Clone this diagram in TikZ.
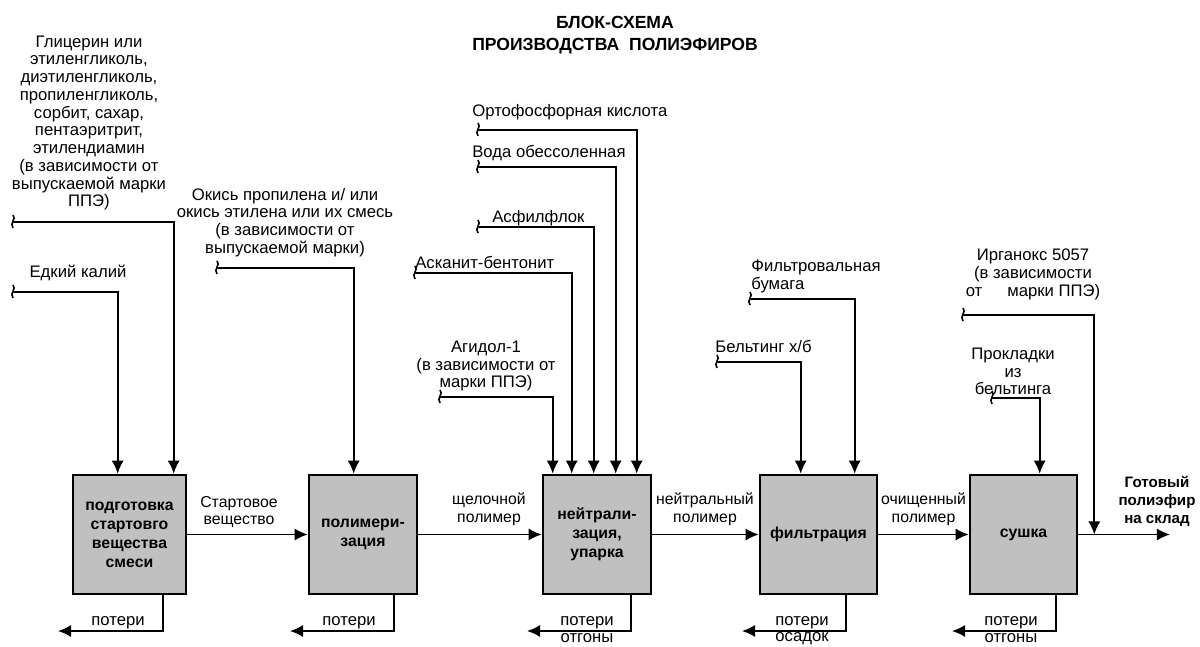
\documentclass[tikz,border=0pt]{standalone}
\usepackage{fontspec}
\setmainfont{Liberation Sans}
\usetikzlibrary{arrows.meta,calc}
\definecolor{boxgray}{RGB}{192,192,192}
\tikzset{
  box/.style={draw, line width=1.5pt, fill=boxgray, minimum height=2.38cm, inner sep=0pt, align=center, font=\fontsize{9}{10.8}\selectfont\bfseries},
  ln/.style={line width=1pt},
  arr/.style={line width=1pt, -{Latex[length=7.5pt,width=7pt]}},
  lbl/.style={inner sep=0pt, align=center, font=\fontsize{9.5}{10.1}\selectfont},
  flbl/.style={inner sep=0pt, align=center, font=\fontsize{9}{10.1}\selectfont},
  lossl/.style={inner sep=0pt, anchor=base, font=\fontsize{9.5}{10.1}\selectfont},
  lbll/.style={inner sep=0pt, align=left, anchor=west, font=\fontsize{9.5}{10.1}\selectfont},
  brk/.pic={\draw[line width=0.9pt] (0,-7) .. controls (4,-3) and (-4,1) .. (0,6);}
}
\begin{document}
\begin{tikzpicture}[x=0.02cm,y=-0.02cm]
\useasboundingbox (0,0) rectangle (1200,646);

% title
\node[inner sep=0pt, align=center, font=\fontsize{10}{12.5}\selectfont\bfseries] (title) at (615,35) {БЛОК-СХЕМА\\ПРОИЗВОДСТВА\ \ ПОЛИЭФИРОВ};

% process boxes
\node[box, minimum width=2.26cm] (b1) at (129.5,534.5) {подготовка\\стартовго\\вещества\\смеси};
\node[box, minimum width=2.16cm] (b2) at (363,534.5) {полимери-\\зация};
\node[box, minimum width=2.16cm] (b3) at (597,534.5) {нейтрали-\\зация,\\упарка};
\node[box, minimum width=2.34cm] (b4) at (818.5,534.5) {фильтрация};
\node[box, minimum width=2.14cm] (b5) at (1023.5,534.5) {сушка};

% main flow
\draw[arr] (b1) -- (b2);
\draw[arr] (b2) -- (b3);
\draw[arr] (b3) -- (b4);
\draw[arr] (b4) -- (b5);
\coordinate (out) at (1170,534.5);
\draw[arr] (b5.east) -- (out);

\node[flbl] (f1) at (239,512) {Стартовое\\вещество};
\node[flbl] (f2) at (489,509.5) {щелочной\\полимер};
\node[flbl] (f3) at (705,509.5) {нейтральный\\полимер};
\node[flbl] (f4) at (923.5,509.5) {очищенный\\полимер};
\node[inner sep=0pt, align=center, font=\fontsize{8.6}{10.2}\selectfont\bfseries] (fout) at (1157,501) {Готовый\\полиэфир\\на склад};

% inputs to box 1
\coordinate (i1) at (13,222);
\draw[arr] (i1) -| ($(b1.north west)+(102,0)$);
\pic at (i1) {brk};
\node[lbl] (t1) at (89,123) {Глицерин или\\этиленгликоль,\\диэтиленгликоль,\\пропиленгликоль,\\сорбит, сахар,\\пентаэритрит,\\этилендиамин\\(в зависимости от\\выпускаемой марки\\ППЭ)};
\coordinate (i2) at (13,292);
\draw[arr] (i2) -| ($(b1.north west)+(46,0)$);
\pic at (i2) {brk};
\node[lbl] (t2) at (78,273) {Едкий калий};

% input to box 2
\coordinate (i3) at (217,268);
\draw[arr] (i3) -| ($(b2.north west)+(46,0)$);
\pic at (i3) {brk};
\node[lbl] (t3) at (285,222.5) {Окись пропилена и/ или\\окись этилена или их смесь\\(в зависимости от\\выпускаемой марки)};

% inputs to box 3
\coordinate (i4) at (478,130);
\draw[arr] (i4) -| ($(b3.north west)+(95,0)$);
\pic at (i4) {brk};
\node[lbll] (t4) at (472,112) {Ортофосфорная кислота};
\coordinate (i5) at (478,167);
\draw[arr] (i5) -| ($(b3.north west)+(74,0)$);
\pic at (i5) {brk};
\node[lbll] (t5) at (472,153) {Вода обессоленная};
\coordinate (i6) at (478,227);
\draw[arr] (i6) -| ($(b3.north west)+(52,0)$);
\pic at (i6) {brk};
\node[lbll] (t6) at (492,218) {Асфилфлок};
\coordinate (i7) at (415,273);
\draw[arr] (i7) -| ($(b3.north west)+(30,0)$);
\pic at (i7) {brk};
\node[lbll] (t7) at (415,262) {Асканит-бентонит};
\coordinate (i8) at (440,397);
\draw[arr] (i8) -| ($(b3.north west)+(11,0)$);
\pic at (i8) {brk};
\node[lbl] (t8) at (486,366) {Агидол-1\\(в зависимости от\\марки ППЭ)};

% inputs to box 4
\coordinate (i9) at (750,299);
\draw[arr] (i9) -| ($(b4.north west)+(96,0)$);
\pic at (i9) {brk};
\node[lbll] (t9) at (751,276.5) {Фильтровальная\\бумага};
\coordinate (i10) at (717,362);
\draw[arr] (i10) -| ($(b4.north west)+(42,0)$);
\pic at (i10) {brk};
\node[lbll] (t10) at (715,346) {Бельтинг х/б};

% inputs to box 5 and output
\coordinate (i11) at (992,398);
\draw[arr] (i11) -| ($(b5.north west)+(71,0)$);
\pic at (i11) {brk};
\node[lbl] (t11) at (1013,371.5) {Прокладки\\из\\бельтинга};
\coordinate (i12) at (963,315);
\draw[arr] (i12) -| ($(b5.east)+(16,0)$);
\pic at (i12) {brk};
\node[lbl] (t12) at (1033,274.5) {Ирганокс 5057\\(в зависимости\\от\hspace{1.5em}марки ППЭ)};

% losses
\coordinate (o1) at (58,631);
\draw[arr] ($(b1.south west)+(91,0)$) |- (o1);
\node[lossl] (l1) at (118,625) {потери};
\coordinate (o2) at (290,631);
\draw[arr] ($(b2.south west)+(86,0)$) |- (o2);
\node[lossl] (l2) at (349,625) {потери};
\coordinate (o3) at (527,631);
\draw[arr] ($(b3.south west)+(89,0)$) |- (o3);
\node[lossl] (l3) at (587,625) {потери};
\node[lossl] (l3b) at (587,642) {отгоны};
\coordinate (o4) at (742,631);
\draw[arr] ($(b4.south west)+(87,0)$) |- (o4);
\node[lossl] (l4) at (802,625) {потери};
\node[lossl] (l4b) at (802,641.5) {осадок};
\coordinate (o5) at (952,631);
\draw[arr] ($(b5.south west)+(87,0)$) |- (o5);
\node[lossl] (l5) at (1011,625) {потери};
\node[lossl] (l5b) at (1011,642) {отгоны};
\end{tikzpicture}
\end{document}
